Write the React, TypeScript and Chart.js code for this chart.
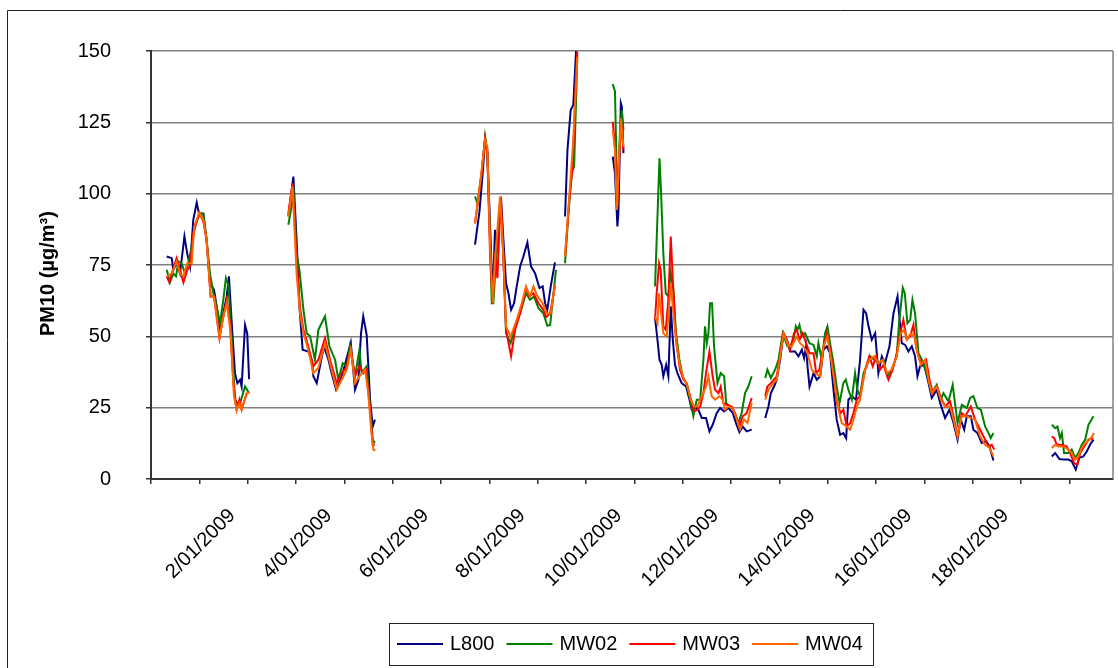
import { useEffect, useRef } from "react";
import { Chart, registerables } from "chart.js";

Chart.register(...registerables);

type Pt = [number, number | null];

// x = hours since 1/01/2009 00:00, y = PM10 (µg/m³); null = gap in the record
const L800: Pt[] = [
  [7.8, 78], [10.3, 77.4], [11.1, 73.3], [12.7, 75.6], [14.4, 72], [16.6, 85], [18, 79], [19.4, 74.5], [21, 90.8], [22.7, 96.9], [23.8, 93.1], [26, 93], [27.6, 83.8], [29.3, 68.6], [31.3, 66.3], [32.6, 60.5], [34.3, 51.1], [35.9, 58.1], [37.6, 64], [38.7, 71], [40.1, 54.6], [41.7, 37.1], [42.9, 33.6], [44.2, 34.8], [45, 32.4], [46.7, 54], [47.8, 51], [48.7, 35], [58, null],
  [68.2, 92], [70.7, 106], [72.3, 83.8], [73.7, 60.5], [75.3, 45.3], [78.1, 44.7], [79.8, 41.8], [80.6, 36], [82.3, 33.6], [83.9, 39.5], [85.9, 46.5], [88.1, 41.8], [89.7, 37.1], [91.9, 31.3], [94.2, 34.8], [96.3, 40], [99.2, 47.8], [101.3, 31.3], [103, 34.8], [104.3, 51.1], [105.4, 57], [107.1, 50.5], [108.8, 27.8], [110.1, 18.4], [111.2, 20.8], [130, null],
  [160.9, 82.1], [163.1, 93.7], [164.7, 107.2], [165.9, 118.8], [167, 115.3], [168.4, 88.5], [169.7, 62.8], [170.8, 87.3], [171.7, 79.1], [173, 94.3], [173.8, 98.4], [175, 83.8], [176.3, 68.6], [177.5, 65.1], [178.8, 59.3], [180.3, 61.6], [181.6, 67.5], [183.3, 74.5], [184.9, 78], [186.9, 82.9], [188.7, 74.5], [190.7, 72.1], [192.9, 66.9], [194.5, 67.5], [195.7, 61.6], [196.8, 59.3], [198.5, 67.5], [200.6, 75.9], [203, null],
  [205.6, 92], [206.8, 115.3], [208.4, 129.3], [209.7, 131.1], [211.1, 150.5], [220, null],
  [229.3, 113], [230.4, 107.2], [231.6, 88.5], [232.1, 93.1], [233.3, 131.7], [233.8, 130.5], [234.6, 114.2], [242, null],
  [250.3, 56.4], [251.5, 48.8], [252.5, 41.8], [253.6, 40], [254.4, 36], [255.8, 40], [256.9, 36], [258.1, 60.5], [259.1, 48.8], [260.2, 40], [261.4, 37.1], [263.5, 33.6], [265.7, 32.4], [267.4, 27.8], [268.5, 24.3], [270.2, 25.4], [271.8, 24.3], [273.5, 21.4], [275.6, 21.4], [277.3, 16.7], [278.9, 19], [280.9, 23.1], [282.6, 24.9], [284.6, 23.7], [286.7, 24.9], [288.9, 23.1], [290.5, 19.6], [292.2, 16.4], [293.8, 18.4], [295.8, 16.7], [298.3, 17.3], [301, null],
  [305, 21.4], [306.6, 25.4], [307.8, 30.1], [309.4, 32.4], [310.7, 34.8], [312.4, 41.8], [314.1, 51.1], [315.7, 48.8], [317.4, 44.7], [319.8, 44.7], [321.5, 43], [323.2, 45.3], [324.3, 42.4], [325.3, 46.5], [326, 39.5], [327, 32.4], [329, 37.1], [330.6, 34.8], [332.3, 36], [333.9, 45.3], [335.6, 46.5], [337.2, 44.1], [338.9, 31.3], [340.5, 20.8], [342.2, 15.5], [343.8, 16.1], [345.2, 14.3], [346.3, 27.8], [348, 29], [350.1, 27.8], [352.1, 41.8], [353.8, 59.3], [355.1, 58.1], [356.3, 53.5], [357.9, 48.8], [359.6, 51.1], [361.2, 37.1], [362.9, 43], [364.5, 40.6], [366.7, 46.5], [368.7, 58.1], [370.7, 64], [372.8, 47.6], [374.5, 47], [376.1, 44.7], [377.8, 46.5], [379.4, 43], [380.6, 36], [381.9, 39.5], [383.9, 40], [386.1, 33.6], [387.7, 28.4], [390.2, 31.3], [391.9, 26.6], [394.3, 21.4], [396.5, 24.3], [398.5, 19.6], [400.5, 13.8], [402.1, 20.8], [403.8, 17.3], [405.1, 22], [407.1, 22], [408.4, 17.3], [410.4, 16.1], [412.5, 12.6], [414.7, 13.2], [416.4, 11.4], [418.3, 6.5], [430, null],
  [447.3, 7.9], [449, 9.1], [451.1, 7], [453.1, 6.8], [455.6, 6.8], [457.2, 6.2], [459.2, 3.3], [460.9, 7.4], [463, 7.9], [464.7, 9.7], [466.3, 12], [468, 13.8],
];

const MW02: Pt[] = [
  [7.8, 73.3], [9.4, 68.9], [11.1, 72], [12.4, 71], [13.6, 76.2], [15.2, 75.6], [16.9, 72], [18.5, 75.6], [20.2, 81.5], [21.8, 88.5], [24.3, 93.1], [26, 93], [27.6, 84], [29.3, 72], [31, 65], [32.6, 60.5], [34.3, 54.6], [35.9, 62.8], [37.2, 70.4], [38.4, 68], [40.1, 48.8], [41.7, 27.8], [42.9, 26.6], [44.5, 27.2], [46.7, 32.4], [48.7, 30.1], [58, null],
  [68.2, 89.1], [69.8, 95.5], [70.7, 102.5], [72.3, 79], [73.7, 73.3], [75.7, 59.3], [77.3, 51.1], [79, 50], [81.4, 41.8], [83.1, 52.3], [86.4, 57], [88.6, 46.5], [91.4, 41.8], [93, 34.8], [95.2, 40.6], [97.2, 39.5], [98.8, 46.5], [101.3, 36], [103.5, 45.3], [104.6, 37.1], [107.1, 39.5], [108.8, 25.4], [110.1, 13.8], [111.2, 12.6], [130, null],
  [160.9, 99], [162.1, 96.6], [164.2, 107.2], [165.9, 120], [167, 114.2], [168.4, 83.8], [169.2, 61.6], [170, 61.6], [171.3, 76.8], [172.5, 88.5], [173.7, 96.6], [175, 78], [176.3, 51.1], [178.6, 47.6], [180.8, 53.5], [183.3, 58.1], [186.2, 65.1], [188.2, 62.8], [190.2, 64], [192.4, 59.9], [194.8, 58.1], [196.8, 53.7], [198.2, 54], [201.1, 73.3], [203, null],
  [205.6, 75.6], [207.3, 93.1], [208.9, 107.2], [210.1, 109.5], [211.7, 148], [220, null],
  [229.3, 138.4], [230.4, 135.8], [231.6, 95.5], [232.9, 122.3], [233.8, 129.3], [234.6, 122.3], [242, null],
  [250.3, 67.5], [251.1, 83.8], [252.5, 112.4], [253.3, 100.2], [254.4, 79.1], [255.6, 65.1], [256.9, 64], [258.1, 72.1], [259.4, 66.3], [260.7, 51.1], [262.4, 41.8], [264, 36], [265.7, 33.6], [267.4, 29], [269.3, 22], [271, 27.8], [272.7, 27.8], [274.3, 41.8], [275.1, 53.5], [276, 47.6], [276.8, 51.1], [277.6, 61.6], [278.6, 61.6], [279.6, 46.5], [281.3, 33.6], [282.9, 37.1], [284.6, 36], [285.6, 26.6], [287.5, 25.4], [289.2, 24.3], [291.7, 19.6], [293.3, 23.1], [295, 30.1], [296.6, 32.4], [298.3, 36], [301, null],
  [305, 35.4], [306.1, 38.3], [307.8, 35.4], [309.9, 38.3], [311.6, 41.8], [313.7, 51.1], [316, 46.5], [317.4, 46.5], [319, 48.8], [320.2, 53.5], [321, 52.3], [322, 54], [323.2, 50], [324.8, 51.1], [327, 47.6], [329, 47], [330.6, 43], [331.4, 47.6], [333.1, 41.8], [334.7, 51.1], [335.9, 53.5], [337.2, 47.6], [338.9, 40.6], [340.5, 32.4], [341.9, 26.6], [343.8, 33.6], [345, 34.8], [346.3, 31.3], [348, 27.8], [349.6, 37.1], [350.8, 31.3], [352.1, 29], [353.8, 37.1], [355.4, 39.5], [357.1, 43], [359.1, 41.8], [361.2, 40.6], [363.7, 41.8], [365.7, 36], [367.8, 38.3], [370.3, 43], [371.5, 55], [373.3, 67], [374.3, 65.1], [375.6, 54.6], [377, 55.8], [378.1, 62.8], [379.4, 58.1], [381.1, 44.1], [382.8, 41.8], [385.2, 37.1], [387.7, 30.1], [390.2, 33], [392.2, 27.8], [393.5, 30.1], [396, 27.2], [398.1, 33], [400.5, 19.6], [402.6, 26], [405.1, 24.9], [406.8, 28.4], [408.4, 29], [410.4, 24.9], [412.1, 24.3], [414.2, 18.4], [415.9, 16.1], [417, 14.3], [418.3, 16.1], [430, null],
  [447.3, 19], [449, 17.8], [450.1, 18.4], [451.4, 14.3], [452.3, 16.1], [453.4, 9.1], [455.6, 9.1], [457.2, 10.3], [458.9, 7.4], [460.5, 9.1], [462.2, 12], [463.9, 13.8], [465.5, 19], [468, 22],
];

const MW03: Pt[] = [
  [7.8, 71], [9.1, 68.9], [10.3, 72], [12.7, 77.4], [14.4, 73.3], [16.1, 68.9], [18, 73.3], [19.4, 74.5], [21, 86.2], [24, 93.4], [26, 90.2], [27.6, 83.8], [29.6, 64], [31.3, 64], [32.6, 57], [34, 49.4], [35.6, 55.8], [37.6, 62.8], [39.2, 54.6], [40.9, 33.6], [42.5, 24.3], [43.9, 27.8], [45, 24.3], [47.5, 30], [58, null],
  [68.2, 93.1], [70.3, 103.6], [72.3, 76.8], [74, 60], [75.7, 52.3], [78.1, 46.5], [80.6, 39.5], [83.1, 41.8], [86.4, 49.4], [88.9, 41.8], [92.2, 33.6], [94.7, 37.1], [96.8, 38.9], [99.2, 45.3], [101.3, 36], [103.5, 39.5], [105.4, 37.1], [106.8, 38.3], [108.8, 24.3], [110.1, 12], [111.2, 12], [130, null],
  [160.9, 89.6], [164.2, 107.2], [165.9, 119.4], [167, 114.2], [168.4, 78], [169.7, 61.6], [170.8, 79.1], [172, 70.4], [173.7, 99], [175, 76.8], [176.3, 52.3], [178.8, 43], [180.8, 52.3], [183.3, 58.1], [186.2, 66.9], [187.9, 64], [189.9, 65.1], [192.4, 61.6], [194.8, 59.3], [196.2, 56.7], [198.2, 58.1], [200.6, 67.5], [203, null],
  [205.6, 78], [207.7, 97.8], [209.4, 109.5], [211.1, 142.2], [211.7, 149.8], [220, null],
  [229.3, 125.2], [230.4, 116.5], [231.6, 95.5], [233.3, 125.8], [234.6, 115.3], [242, null],
  [250.3, 55.8], [251.1, 65.1], [252.3, 75.6], [253.1, 73.3], [254.4, 53.5], [255.6, 52.3], [256.9, 62.8], [258.1, 85], [259.1, 69.8], [260.7, 48.8], [262.7, 38.3], [264.4, 34.8], [266, 33.6], [267.7, 29], [269.7, 23.7], [271.3, 24.3], [272.7, 25.4], [274.3, 30.1], [275.6, 37.1], [277.3, 44.7], [278.9, 36], [280.1, 31.3], [281.8, 30.1], [282.9, 32.4], [284.2, 26.6], [285.9, 26], [288.4, 25.4], [290, 23.1], [292.2, 18.4], [293.8, 22], [295.8, 23.1], [298.3, 28.4], [301, null],
  [305, 29], [306.1, 32.4], [307.8, 33.6], [310.7, 36], [312.4, 43], [314.1, 51.1], [315.7, 48.8], [317.4, 45.3], [319.3, 51.1], [320.7, 52.3], [322, 48.8], [323.6, 51.1], [325.3, 47.6], [327, 44.1], [329, 44.1], [330.3, 37.1], [331.9, 38.3], [333.6, 45.3], [335.6, 51.1], [337.2, 45.3], [338.9, 37.1], [340.5, 26.6], [342.5, 23.1], [343.8, 24.3], [345.5, 18.4], [347.2, 19.6], [348.8, 23.1], [350.5, 27.8], [352.1, 29], [354.6, 38.3], [356.7, 43], [358.4, 39.5], [360.1, 43], [362, 38.3], [363.7, 40], [366.2, 34.8], [368.3, 38.3], [370.3, 44.1], [372, 51.1], [373.6, 55.8], [375.3, 48.8], [377, 50], [378.6, 54], [379.9, 46.5], [381.6, 41.8], [383.3, 40.6], [384.9, 41.8], [386.6, 34.8], [388.2, 30.1], [390.2, 32.4], [392.7, 27.8], [394.3, 25.4], [396.8, 27.2], [398.5, 22], [400.5, 14.9], [402.6, 23.1], [404.3, 22], [407.1, 25.4], [409.2, 20.8], [411.7, 17.3], [414.2, 13.8], [415.9, 11.4], [417.5, 12], [418.7, 10.3], [430, null],
  [447.3, 14.9], [448.5, 14.3], [449.8, 12], [452.3, 12], [454.8, 11.4], [456.4, 9.1], [458.4, 5.6], [460, 5], [461.4, 9.1], [463.4, 11.4], [465.5, 13.8], [468, 14.3],
];

const MW04: Pt[] = [
  [7.8, 71], [10.3, 72], [12.7, 76.2], [14.4, 72], [16.1, 71], [18, 75.6], [20.2, 75.6], [21.5, 88.5], [24, 93.4], [26, 90.8], [27.6, 84], [29.6, 64], [31.3, 64], [32.6, 57], [34, 49.4], [35.9, 57], [37.6, 61.6], [39.6, 51], [41.2, 29], [42.5, 24.3], [43.9, 26.6], [45, 24.3], [47.5, 30], [48.8, 30.3], [58, null],
  [68.2, 92], [70.3, 102.5], [72.3, 72], [74, 58], [75.7, 51.1], [78.1, 45.3], [80.6, 37.1], [83.1, 38.9], [86.4, 47.6], [88.9, 40.6], [92.2, 31.3], [94.7, 34.8], [97.2, 38.3], [99.2, 45.3], [101.3, 33.6], [103.5, 36], [106.3, 38.3], [107.9, 30.1], [109.3, 17.3], [110.4, 10.3], [111.4, 10], [130, null],
  [160.9, 89.6], [163.4, 103.6], [165.9, 118.8], [167, 116.5], [168.4, 81.5], [169.7, 61.6], [170.8, 76.8], [173.3, 99], [175, 78], [176.3, 53.5], [178.6, 49.9], [181.6, 55.8], [184.1, 61.6], [186.2, 67.5], [188.2, 64], [189.9, 67.5], [191.9, 64], [194.5, 61.6], [196.5, 58.1], [198.5, 58.1], [200.6, 68.1], [203, null],
  [205.6, 78], [207.7, 99], [209.7, 118.8], [211.7, 148], [220, null],
  [229.3, 122.3], [230.4, 115.3], [231.3, 94.3], [233.3, 126.4], [234.6, 116.5], [242, null],
  [250.3, 57], [251.5, 54.6], [252.3, 65.1], [253.3, 58.1], [254.4, 51.1], [256.1, 49.9], [257.3, 60.5], [258.1, 68.6], [259.4, 58.1], [261.1, 46.5], [262.7, 39.5], [264.4, 35.4], [266.4, 32.4], [268, 27.8], [269.7, 25.4], [271.3, 25.4], [272.7, 27.8], [274.3, 30.1], [275.6, 32.4], [276.8, 36], [278.4, 29], [280.1, 27.8], [282.2, 29], [283.9, 27.8], [285.1, 24.3], [286.7, 25.4], [288.9, 24.9], [290.9, 20.8], [292.5, 17.3], [294.5, 20.8], [296.2, 19.6], [298.3, 26.6], [301, null],
  [305, 27.8], [306.6, 31.3], [309.1, 33.6], [310.7, 34.8], [312.4, 43], [314.1, 51.1], [316.5, 46.5], [318.2, 46.5], [320.7, 49.9], [322.3, 47.6], [324, 46.5], [326, 44.1], [328.1, 38.3], [329.8, 37.1], [332.3, 36], [333.9, 46.5], [335.9, 49.9], [337.5, 43], [339.7, 32.4], [341.4, 24.3], [343, 19.6], [345.5, 18.4], [347.2, 17.3], [348.8, 20.8], [350.5, 25.4], [352.1, 27.8], [354.6, 38.3], [356.7, 41.8], [359.1, 43], [361.2, 40.6], [363.4, 41.8], [365.4, 37.1], [367.8, 38.3], [370.3, 43], [372.3, 51.1], [374, 52.3], [375.3, 48.8], [377.3, 51.1], [379, 50], [380.6, 44.1], [382.3, 40], [384.4, 41.8], [386.1, 34.8], [387.7, 30.1], [390.2, 32.4], [392.2, 27.8], [394.3, 25.4], [396.8, 25.4], [398.5, 20.8], [400.5, 14.9], [402.6, 22], [405.1, 22], [407.1, 21.4], [409.2, 20.8], [411.7, 14.9], [414.2, 12], [416.4, 10.9], [418.3, 7.9], [430, null],
  [447.3, 10.9], [449, 12], [450.6, 11.4], [453.1, 11.4], [455.6, 10.3], [457.2, 9.1], [458.9, 6.8], [460.5, 7.9], [462.2, 10.9], [463.9, 12.6], [466.3, 13.8], [468.3, 16.1],
];

const SERIES_NAMES = ["L800", "MW02", "MW03", "MW04"];
const SERIES_DATA = [L800, MW02, MW03, MW04];
const SERIES_COLORS = ["#000080", "#008000", "#FF0000", "#FF6600"];
const Y_TITLE = "PM10 (µg/m³)";
const X_LABEL_DAYS = [2, 4, 6, 8, 10, 12, 14, 16, 18];

const FONT = '"Liberation Sans", Arial, sans-serif';

const decorPlugin = {
  id: "decor",
  afterDraw(chart: any) {
    const { ctx, chartArea } = chart;
    ctx.save();
    // outer chart border
    ctx.strokeStyle = "#222";
    ctx.lineWidth = 1;
    ctx.beginPath();
    ctx.moveTo(7.5, 668);
    ctx.lineTo(7.5, 10.5);
    ctx.lineTo(1118, 10.5);
    ctx.stroke();
    // plot area right border
    ctx.strokeStyle = "#808080";
    ctx.lineWidth = 1.5;
    ctx.beginPath();
    ctx.moveTo(chartArea.right, chartArea.top);
    ctx.lineTo(chartArea.right, chartArea.bottom);
    ctx.stroke();
    // y title
    ctx.save();
    ctx.translate(48, 336);
    ctx.rotate(-Math.PI / 2);
    ctx.fillStyle = "#000";
    ctx.font = `bold 20px ${FONT}`;
    ctx.textAlign = "left";
    ctx.textBaseline = "middle";
    ctx.fillText(Y_TITLE, 0, 0);
    ctx.restore();
    // legend
    ctx.strokeStyle = "#222";
    ctx.lineWidth = 1;
    ctx.strokeRect(389.5, 623.5, 484, 42);
    ctx.font = `20px ${FONT}`;
    ctx.textBaseline = "middle";
    ctx.textAlign = "left";
    let x = 397;
    const ly = 644;
    chart.data.datasets.forEach((ds: any) => {
      ctx.strokeStyle = ds.borderColor;
      ctx.lineWidth = 2;
      ctx.beginPath();
      ctx.moveTo(x, ly);
      ctx.lineTo(x + 46, ly);
      ctx.stroke();
      ctx.fillStyle = "#000";
      ctx.fillText(ds.label, x + 53, ly);
      x = x + 53 + ctx.measureText(ds.label).width + 12;
    });
    ctx.restore();
  },
};

export default function App() {
  const ref = useRef<HTMLCanvasElement | null>(null);
  useEffect(() => {
    if (!ref.current) return;
    const chart = new Chart(ref.current, {
      type: "line",
      data: {
        datasets: SERIES_NAMES.map((name, i) => ({
          label: name,
          data: SERIES_DATA[i].map(([h, v]) => ({ x: h, y: v })),
          borderColor: SERIES_COLORS[i],
          backgroundColor: SERIES_COLORS[i],
          borderWidth: 2,
          pointRadius: 0,
          tension: 0,
          spanGaps: false,
          order: SERIES_NAMES.length - i,
        })),
      },
      options: {
        animation: false,
        responsive: false,
        maintainAspectRatio: false,
        layout: { padding: { left: 0, top: 51, right: 5, bottom: 0 }, autoPadding: false },
        plugins: { legend: { display: false }, tooltip: { enabled: false } },
        scales: {
          x: {
            type: "linear",
            min: 0,
            max: 477.7,
            afterFit: (s: any) => {
              s.height = 189;
            },
            grid: { drawOnChartArea: false, drawTicks: true, tickLength: 5, color: "#333", lineWidth: 1.5 },
            border: { display: true, color: "#333", width: 2 },
            ticks: {
              stepSize: 24,
              autoSkip: false,
              includeBounds: false,
              minRotation: 45,
              maxRotation: 45,
              labelOffset: 33,
              padding: 20,
              color: "#000",
              font: { family: FONT, size: 20 },
              callback: (v: any) => {
                const d = Math.round(Number(v) / 24) + 1;
                return X_LABEL_DAYS.includes(d) ? `${d}/01/2009` : "";
              },
            },
          },
          y: {
            min: 0,
            max: 150,
            afterFit: (s: any) => {
              s.width = 151;
            },
            grid: { color: "#808080", lineWidth: 1.5, tickColor: "#333", tickLength: 5 },
            border: { display: true, color: "#333", width: 2 },
            ticks: { stepSize: 25, padding: 35, color: "#000", font: { family: FONT, size: 20 } },
          },
        },
      },
      plugins: [decorPlugin],
    } as any);
    return () => chart.destroy();
  }, []);
  return (
    <div style={{ position: "fixed", left: 0, top: 0, width: 1118, height: 668, background: "#fff" }}>
      <canvas ref={ref} width={1118} height={668} />
    </div>
  );
}
